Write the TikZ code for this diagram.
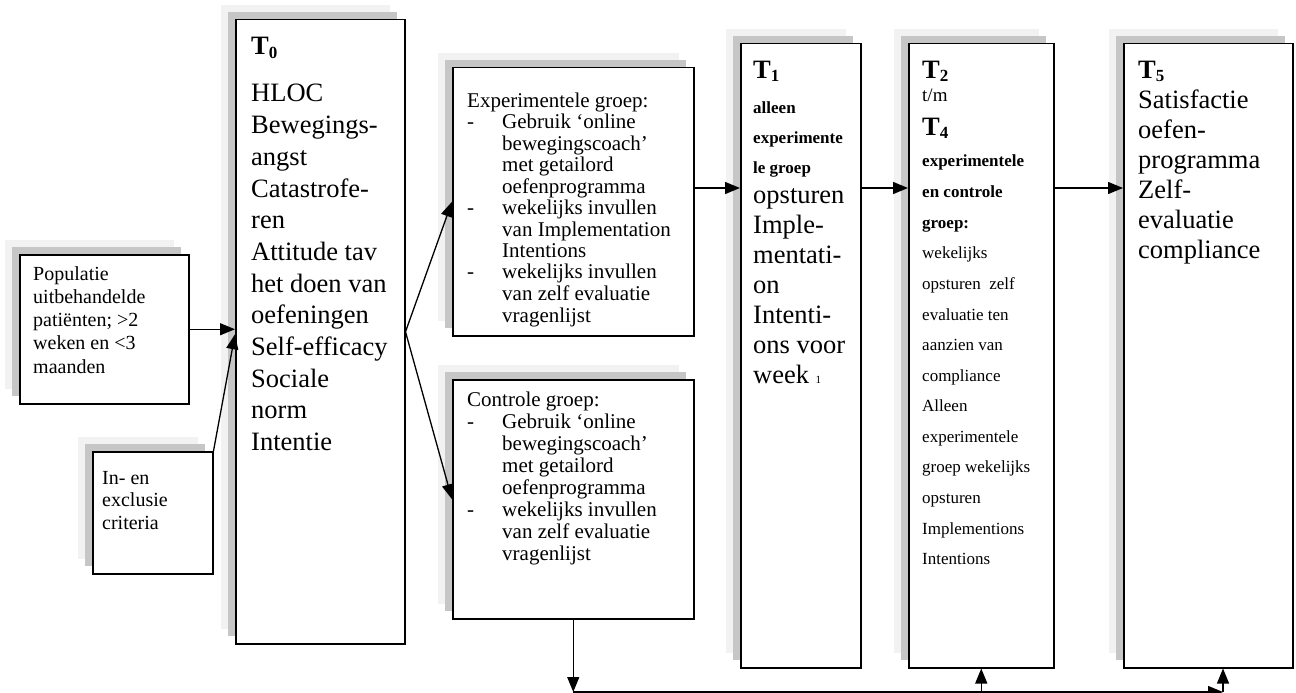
\documentclass[tikz,border=0pt]{standalone}
\usepackage{fontspec}
\setmainfont{Liberation Serif}
\usetikzlibrary{arrows.meta,shadows,calc}

\newcommand{\tlab}[1]{\textbf{T\raisebox{-3.5pt}{\fontsize{17}{17}\selectfont #1}}}
\newcommand{\dashit}{\makebox[35pt][l]{-}}
\newcommand{\indit}{\hspace*{35pt}}

\begin{document}
\begin{tikzpicture}[x=1pt,y=-1pt,
	box/.style={draw, line width=1.5pt, fill=white, anchor=north west, inner sep=0pt,
		copy shadow={shadow xshift=-15pt, shadow yshift=15pt, fill=gray!10, draw=none},
		copy shadow={shadow xshift=-7.5pt, shadow yshift=7.5pt, fill=gray!45, draw=none}},
	txt/.style={anchor=base west, inner sep=0pt, align=flush left},
	arr/.style={line width=1.3pt, -{Triangle[length=15pt,width=12pt]}}]
	\useasboundingbox (0,0) rectangle (1296,693);
	%% boxes
	\node[box, minimum width=169pt, minimum height=149pt] (pop) at (19,254) {};
	\node[box, minimum width=120pt, minimum height=122pt] (incl) at (92,451) {};
	\node[box, minimum width=169pt, minimum height=624pt] (t0) at (235,19) {};
	\node[box, minimum width=241pt, minimum height=268pt] (exp) at (452,67) {};
	\node[box, minimum width=241pt, minimum height=239pt] (ctrl) at (452,379) {};
	\node[box, minimum width=120pt, minimum height=624pt] (t1) at (740,43) {};
	\node[box, minimum width=145pt, minimum height=624pt] (t2) at (908,43) {};
	\node[box, minimum width=169pt, minimum height=624pt] (t5) at (1123,43) {};
	%% box texts
	\node[txt, text width=150pt, font=\fontsize{20}{23.3}\selectfont] (poptxt) at (33,280)
		{Populatie\\ uitbehandelde\\ patiënten; >2\\ weken en <3\\ maanden};
	\node[txt, text width=105pt, font=\fontsize{20}{22.5}\selectfont] (incltxt) at (102,484)
		{In- en\\ exclusie\\ criteria};
	\node[txt, text width=150pt, font=\fontsize{26.5}{31.7}\selectfont] (t0txt) at (251,55)
		{\tlab{0}\\[15.3pt] HLOC\\ Bewegings-\\ angst\\ Catastrofe-\\ ren\\ Attitude tav\\
		het doen van\\ oefeningen\\ Self-efficacy\\ Sociale\\ norm\\ Intentie};
	\node[txt, text width=225pt, font=\fontsize{21}{21.5}\selectfont] (exptxt) at (467,107)
		{Experimentele groep:\\ \dashit Gebruik ‘online\\ \indit bewegingscoach’\\
		\indit met getailord\\ \indit oefenprogramma\\ \dashit wekelijks invullen\\
		\indit van Implementation\\ \indit Intentions\\ \dashit wekelijks invullen\\
		\indit van zelf evaluatie\\ \indit vragenlijst};
	\node[txt, text width=225pt, font=\fontsize{21}{22}\selectfont] (ctrltxt) at (467,406)
		{Controle groep:\\ \dashit Gebruik ‘online\\ \indit bewegingscoach’\\
		\indit met getailord\\ \indit oefenprogramma\\ \dashit wekelijks invullen\\
		\indit van zelf evaluatie\\ \indit vragenlijst};
	\node[txt, text width=104pt, font=\fontsize{26.5}{30}\selectfont] (t1txt) at (753,78)
		{\tlab{1}\\[5pt]
		{\fontsize{17}{30}\selectfont\bfseries alleen\\ experimente\\ le groep}\\
		opsturen\\ Imple-\\ mentati-\\ on\\ Intenti-\\ ons voor\\ week {\fontsize{11}{30}\selectfont 1}};
	\node[txt, text width=128pt, font=\fontsize{26.5}{30.6}\selectfont] (t2txt) at (922,78)
		{\tlab{2}\\[-6.6pt] {\fontsize{19}{30.6}\selectfont t/m}\\[2.4pt] \tlab{4}\\[1.4pt]
		{\fontsize{17}{30.6}\selectfont\bfseries experimentele\\ en controle\\ groep:}\\
		\fontsize{17}{30.6}\selectfont wekelijks\\ opsturen\enspace zelf\\ evaluatie ten\\ aanzien van\\
		compliance\\ Alleen\\ experimentele\\ groep wekelijks\\ opsturen\\ Implementions\\ Intentions};
	\node[txt, text width=151pt, font=\fontsize{26.5}{30}\selectfont] (t5txt) at (1138,78)
		{\tlab{5}\\ Satisfactie\\ oefen-\\ programma\\ Zelf-\\ evaluatie\\ compliance};
	%%% arrows
	\coordinate (join) at ($(pop.east -| t0.west)+(0,5)$);
	\coordinate (lvl) at (0,188);
	\coordinate (low) at (0,692);
	\coordinate (t5in) at (1223,692);
	\draw[arr] (pop.east) -- (pop.east -| t0.west);
	\draw[arr] (incl.north east) -- (join);
	\draw[arr] (t0.east) -- (exp.west);
	\draw[arr] (t0.east) -- (ctrl.west);
	\draw[arr] (exp.east |- lvl) -- (t1.west |- lvl);
	\draw[arr] (t1.east |- lvl) -- (t2.west |- lvl);
	\draw[arr] (t2.east |- lvl) -- (t5.west |- lvl);
	\draw[arr] (ctrl.south) -- (ctrl.south |- low);
	\draw[arr] (ctrl.south |- low) -- (t5in);
	\draw[arr] (t2.south |- low) -- (t2.south);
	\draw[arr] (t5in) -- (t5in |- t5.south);
\end{tikzpicture}
\end{document}
